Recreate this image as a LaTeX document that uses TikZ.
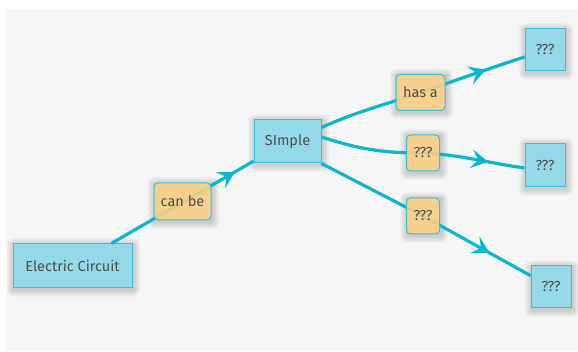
\documentclass[tikz,border=0pt]{standalone}
\usepackage{fontspec}
\setmainfont{Fira Sans}
\usetikzlibrary{arrows.meta,decorations.markings}
\pgfdeclarelayer{bglayer}
\pgfdeclarelayer{glowlayer}
\pgfsetlayers{bglayer,glowlayer,main}
\definecolor{bg}{HTML}{F6F6F6}
\definecolor{edgec}{HTML}{0AB7CE}
\definecolor{boxfill}{HTML}{94D9E8}
\definecolor{boxline}{HTML}{33C1D3}
\definecolor{lblfill}{HTML}{FFD183}
\definecolor{txt}{HTML}{4D4D4D}
\tikzset{
  concept/.style={draw=boxline, fill=boxfill, line width=1pt, inner sep=0pt,
    text=txt, font=\fontsize{14.5}{16}\selectfont},
  linklbl/.style={draw=boxline, fill=lblfill, fill opacity=0.85, text opacity=1, line width=1pt,
    rounded corners=4pt, inner sep=0pt, text=txt, font=\fontsize{14.5}{16}\selectfont},
  conn/.style={draw=edgec, line width=3.2pt},
  glowring/.style={fill=black, fill opacity=0.022},
  tipat/.style={postaction={decorate}, decoration={markings,
    mark=at position #1 with {\arrow{Stealth[length=17pt,width=19pt,inset=7pt,line width=0pt]}}}},
}
\begin{document}
\begin{tikzpicture}[x=1pt,y=1pt]
\useasboundingbox (0,0) rectangle (578,352);
\begin{pgfonlayer}{bglayer}
\fill[white] (0,0) rectangle (578,352);
\fill[bg] (6,1) rectangle (578,342.5);
\end{pgfonlayer}
% nodes (concepts)
\node[concept, minimum width=119pt, minimum height=44pt] (ec) at (72.5,86) {Electric Circuit};
\node[concept, minimum width=67pt, minimum height=43pt] (simple) at (287.5,210.5) {SImple};
\node[concept, minimum width=40pt, minimum height=42pt] (t1) at (545,302) {???};
\node[concept, minimum width=40pt, minimum height=43pt] (t2) at (545,186.5) {???};
\node[concept, minimum width=40pt, minimum height=42pt] (t3) at (551,65) {???};
% label anchors
\coordinate (cbc) at (182.5,150.5);
\coordinate (hac) at (420.5,259.5);
\coordinate (q2c) at (423,199);
\coordinate (q3c) at (423,136);
% connectors
\draw[conn, tipat=0.87, edgec] (ec) -- (simple);
\draw[conn] ([yshift=-8pt]simple.north east) to[out=24,in=199] (hac);
\draw[conn, tipat=0.63, edgec] (hac) to[out=19,in=198] ([yshift=-7pt]t1.west);
\draw[conn] ([yshift=4.5pt]simple.east) to[out=-18,in=180] (q2c);
\draw[conn, tipat=0.64, edgec] (q2c) to[out=-3,in=172] ([yshift=-2.5pt]t2.west);
\draw[conn] (simple.south east) -- (q3c);
\draw[conn, tipat=0.62, edgec] (q3c) -- (t3);
% linking phrases
\node[linklbl, minimum width=57pt, minimum height=37pt] (canbe) at (cbc) {can be};
\node[linklbl, minimum width=49pt, minimum height=36pt] (hasa) at (hac) {has a};
\node[linklbl, minimum width=33pt, minimum height=36pt] (q2) at (q2c) {???};
\node[linklbl, minimum width=33pt, minimum height=36pt] (q3) at (q3c) {???};
% soft glow behind every box
\begin{pgfonlayer}{glowlayer}
\foreach \n in {ec,simple,t1,t2,t3,canbe,hasa,q2,q3}{
  \foreach \d in {1,...,7}{
    \fill[glowring, rounded corners=\d pt]
      ([shift={(-\d pt+1pt,-\d pt-1.5pt)}]\n.south west)
      rectangle ([shift={(\d pt+1pt,\d pt-1.5pt)}]\n.north east);
  }
}
\end{pgfonlayer}
\end{tikzpicture}
\end{document}
